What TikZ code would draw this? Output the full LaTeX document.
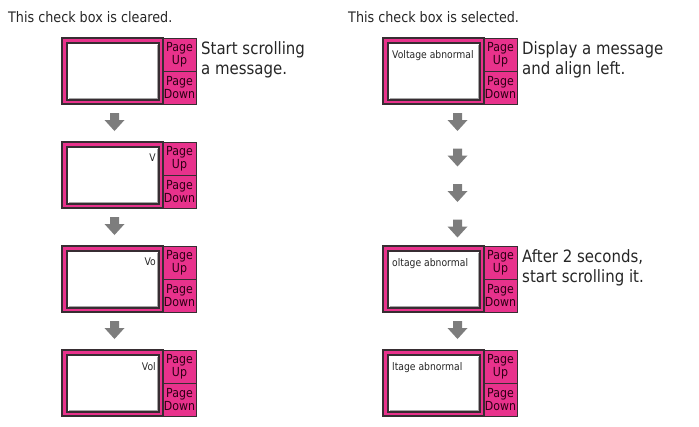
\documentclass[tikz,border=0pt]{standalone}
\usepackage{fontspec}
\setmainfont{DejaVu Sans}[FakeStretch=0.88]
\usetikzlibrary{positioning}

\definecolor{panelpink}{RGB}{232,50,140}
\definecolor{framedark}{RGB}{55,45,50}
\definecolor{arrowgray}{RGB}{125,125,125}
\definecolor{btntext}{RGB}{45,0,20}

\begin{document}
\begin{tikzpicture}[x=1pt, y=-1pt,
    frame/.style={draw=framedark, line width=1.2pt, fill=panelpink,
                  minimum width=101pt, minimum height=66pt, inner sep=0pt, outer sep=0pt},
    screen/.style={draw=framedark, line width=1.5pt, fill=white,
                   minimum width=92pt, minimum height=57pt, inner sep=0pt, outer sep=0pt},
    bevel/.style={draw=black!35, line width=1pt},
    btn/.style={draw=framedark, line width=1pt, fill=panelpink, align=center,
                minimum width=33pt, minimum height=33pt, inner sep=0pt, outer sep=0pt,
                text=btntext, font=\fontsize{12.5}{13}\selectfont},
    msg/.style={font=\fontsize{10.5}{12}\selectfont, inner sep=0pt, text=black!85},
    title/.style={font=\fontsize{14.5}{16}\selectfont, anchor=north west, inner sep=0pt, text=black!85},
    note/.style={font=\fontsize{17}{20}\selectfont, anchor=north west, align=left,
                 inner sep=0pt, text=black!85},
    blockarrow/.pic={\fill[arrowgray] (-4.5,0) -- (4.5,0) -- (4.5,7) -- (10,7) -- (0,18)
                     -- (-10,7) -- (-4.5,7) -- cycle;}]

    \useasboundingbox (0,0) rectangle (699,426);

    \def\lx{62}   % left column
    \def\rx{383}  % right column

    % ===== headings =====
    \node[title] (hl) at (8,11) {This check box is cleared.};
    \node[title] (hr) at (348,11) {This check box is selected.};

    % ===== left column: scrolling from the right =====
    \foreach \n/\y/\msg in {1/38/{}, 2/142/V, 3/246/Vo, 4/350/Vol} {
        \node[frame, anchor=north west] (L\n) at (\lx,\y) {};
        \node[screen, anchor=north west] (L\n s) at ([shift={(5,5)}]L\n.north west) {};
        \draw[bevel] ([shift={(-1.5,1.5)}]L\n s.north east) -- ([shift={(-1.5,-1.5)}]L\n s.south east)
                     -- ([shift={(1.5,-1.5)}]L\n s.south west);
        \node[msg, anchor=north east] at ([shift={(-3,7)}]L\n s.north east) {\msg};
        \node[btn, anchor=north west] (L\n u) at (L\n.north east) {Page\\Up};
        \node[btn, anchor=north west] (L\n d) at (L\n u.south west) {Page\\Down};
    }
    \foreach \n in {1,2,3} {
        \pic at ([shift={(2,9)}]L\n.south) {blockarrow};
    }

    % ===== right column: left aligned, then scrolling =====
    \foreach \n/\y/\msg in {1/38/Voltage abnormal, 2/246/oltage abnormal, 3/350/ltage abnormal} {
        \node[frame, anchor=north west] (R\n) at (\rx,\y) {};
        \node[screen, anchor=north west] (R\n s) at ([shift={(5,5)}]R\n.north west) {};
        \draw[bevel] ([shift={(-1.5,1.5)}]R\n s.north east) -- ([shift={(-1.5,-1.5)}]R\n s.south east)
                     -- ([shift={(1.5,-1.5)}]R\n s.south west);
        \node[msg, anchor=north west] at ([shift={(4,7)}]R\n s.north west) {\msg};
        \node[btn, anchor=north west] (R\n u) at (R\n.north east) {Page\\Up};
        \node[btn, anchor=north west] (R\n d) at (R\n u.south west) {Page\\Down};
    }
    \foreach \k in {0,1,2,3} {
        \pic at ([shift={(24,9+35.5*\k)}]R1.south) {blockarrow};
    }
    \pic at ([shift={(24,9)}]R2.south) {blockarrow};

    % ===== notes =====
    \node[note] (n1) at ([shift={(5,3)}]L1u.north east) {Start scrolling\\a message.};
    \node[note] (n2) at ([shift={(5,3)}]R1u.north east) {Display a message\\and align left.};
    \node[note] (n3) at ([shift={(5,3)}]R2u.north east) {After 2 seconds,\\start scrolling it.};

\end{tikzpicture}
\end{document}
